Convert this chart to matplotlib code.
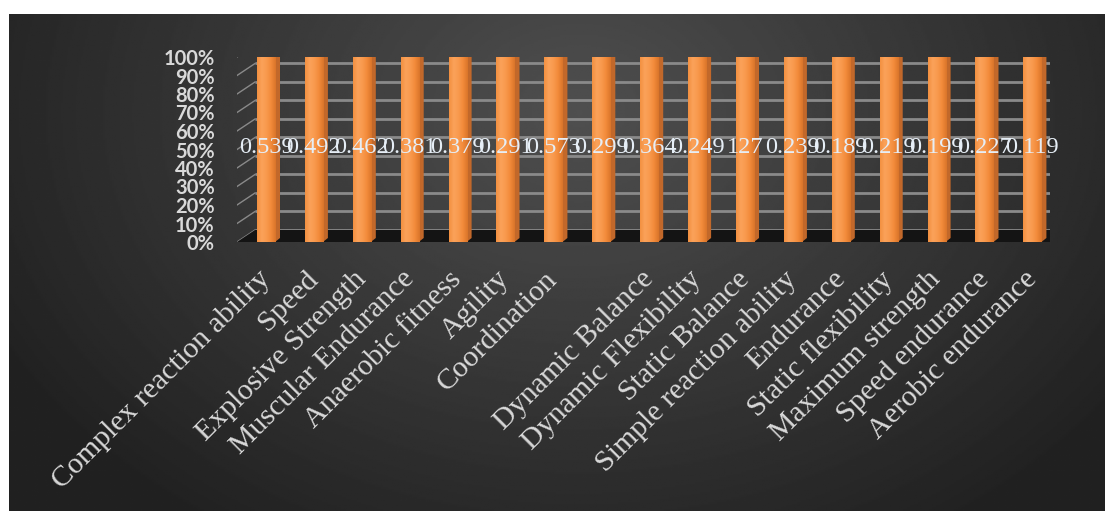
import matplotlib
matplotlib.use("Agg")
import matplotlib.pyplot as plt
import matplotlib.transforms as mtransforms
import numpy as np
from matplotlib.patches import Polygon
from matplotlib.colors import LinearSegmentedColormap

categories = ["Complex reaction ability", "Speed", "Explosive Strength",
              "Muscular Endurance", "Anaerobic fitness", "Agility", "Coordination",
              "", "Dynamic Balance", "Dynamic Flexibility", "Static Balance",
              "Simple reaction ability", "Endurance", "Static flexibility",
              "Maximum strength", "Speed endurance", "Aerobic endurance"]
# one value per column (the 11th label reads 127)
values = [0.539, 0.492, 0.462, 0.381, 0.379, 0.291, 0.573, 0.299, 0.364,
          0.249, 127, 0.239, 0.189, 0.219, 0.199, 0.227, 0.119]
yticks = list(range(0, 101, 10))

W, H = 1105, 511
fig = plt.figure(figsize=(W / 100, H / 100), dpi=100)
fig.patch.set_facecolor("white")

# dark panel with a soft radial glow
bg = fig.add_axes([9 / W, 0, 1 - 9 / W, 1 - 14 / H])
gx, gy = np.meshgrid(np.linspace(0, 1, 600), np.linspace(0, 1, 300))
r = np.sqrt(((gx - 0.52) / 0.6) ** 2 + ((gy - 0.2) / 1.0) ** 2)
glow = np.clip(0.31 - 0.18 * r, 0.13, 0.32)
bg.imshow(glow, cmap="gray", vmin=0, vmax=1, aspect="auto", extent=[0, 1, 1, 0])
bg.set_axis_off()

# plot area: front plane of the 3-D chart
x0_px, x1_px = 237, 1050
y0_px, y1_px = 242, 57
ax = fig.add_axes([x0_px / W, (H - y0_px) / H, (x1_px - x0_px) / W, (y0_px - y1_px) / H])
ax.set_facecolor("none")
n = len(values)
xmin = -(266 - x0_px) / 47.9
xmax = (x1_px - 266) / 47.9
for s in ax.spines.values():
    s.set_visible(False)

# depth of the walls / bars in data units
px_x = (x1_px - x0_px) / (xmax - xmin)
px_y = (y0_px - y1_px) / 100
DX, DY = 18 / px_x, 12 / px_y
bdx, bdy = 5 / px_x, 4 / px_y

grid_c = "#8a8a8a"
# floor
ax.add_patch(Polygon([(xmin, 0), (xmax, 0), (xmax + DX, DY), (xmin + DX, DY)],
                     closed=True, fc="#141414", ec="none", zorder=1))
# back wall gridlines and side wall diagonals
for t in yticks:
    ax.plot([xmin + DX, xmax + DX], [t + DY, t + DY], color=grid_c, lw=2, zorder=0.5,
            solid_capstyle="butt")
    ax.plot([xmin, xmin + DX], [t, t + DY], color=grid_c, lw=1, zorder=0.6)

# single series in a 100% stacked chart: every column fills to 100%
vals = np.array(values, dtype=float)
pct = vals / vals * 100
idx = np.arange(n)
bw = 0.376

front_cmap = LinearSegmentedColormap.from_list(
    "front", ["#f39040", "#fba25a", "#f99a4e", "#f28a3a", "#d9752a"])
shade = np.linspace(0, 1, 64).reshape(1, -1)
bars = ax.bar(idx, pct, width=bw, color="#f79646", zorder=3, linewidth=0)
for i, b in enumerate(bars):
    xl, xr, h = b.get_x(), b.get_x() + bw, b.get_height()
    im = ax.imshow(shade, cmap=front_cmap, aspect="auto", extent=[xl, xr, 0, h], zorder=3.1)
    im.set_clip_path(b)
    ax.add_patch(Polygon([(xr, 0), (xr + bdx, bdy), (xr + bdx, h + bdy), (xr, h)],
                         closed=True, fc="#c2682a", ec="none", zorder=3))
    ax.add_patch(Polygon([(xl, h), (xr, h), (xr + bdx, h + bdy), (xl + bdx, h + bdy)],
                         closed=True, fc="#f3a56a", ec="none", zorder=3))
    ax.text(i, 51, f"{values[i]:g}", ha="center", va="center", color="#e6eef6",
            fontsize=17.5, family=["Liberation Serif"], zorder=5)
ax.set_xlim(xmin, xmax)
ax.set_ylim(0, 100)

ax.set_yticks(yticks)
ax.set_yticklabels([f"{t}%" for t in yticks], color="#d9d9d9", fontsize=14.5,
                   fontweight="bold", family="Lato")
ax.tick_params(axis="y", length=0, pad=16)
ax.set_xticks([])

# slanted category names under each column
lab_tr = ax.get_xaxis_transform() + mtransforms.ScaledTranslation(
    -0.09, 0, fig.dpi_scale_trans)
for i, name in enumerate(categories):
    ax.text(i, -0.13, name, transform=lab_tr, rotation=45, ha="right", va="top",
            rotation_mode="anchor", color="#d9d9d9", fontsize=21.5,
            family=["Liberation Serif"], clip_on=False)

fig.savefig("out.png", dpi=100, facecolor=fig.get_facecolor())
